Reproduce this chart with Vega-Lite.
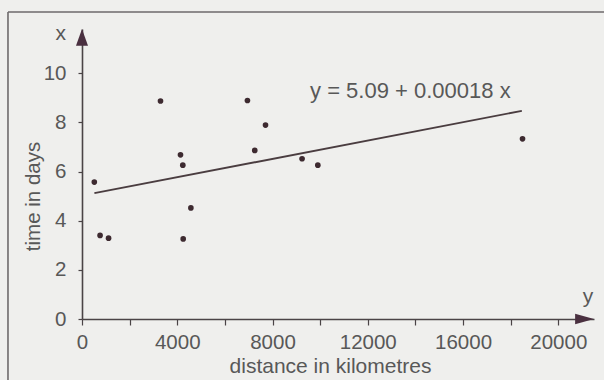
{
  "$schema": "https://vega.github.io/schema/vega-lite/v6.json",
  "width": 512,
  "height": 290,
  "autosize": {"type": "none"},
  "padding": {"left": 82, "top": 29, "right": 10, "bottom": 61},
  "background": "#efefed",
  "config": {
    "view": {"stroke": null},
    "font": "Liberation Sans",
    "axis": {"grid": false, "labelFont": "Liberation Sans", "titleFont": "Liberation Sans", "labelColor": "#585858", "titleColor": "#585858", "titleFontWeight": "normal", "domainColor": "#4a4446", "tickColor": "#4a4446", "domainWidth": 1.6, "tickWidth": 1.2}
  },
  "datasets": {
    "points": [
      {"distance": 517, "days": 5.57},
      {"distance": 759, "days": 3.40},
      {"distance": 1115, "days": 3.29},
      {"distance": 3296, "days": 8.87},
      {"distance": 4136, "days": 6.68},
      {"distance": 4233, "days": 6.26},
      {"distance": 4572, "days": 4.52},
      {"distance": 4249, "days": 3.26},
      {"distance": 6947, "days": 8.89},
      {"distance": 7706, "days": 7.89},
      {"distance": 7254, "days": 6.86},
      {"distance": 9241, "days": 6.52},
      {"distance": 9903, "days": 6.26},
      {"distance": 18498, "days": 7.33}
    ],
    "fit": [
      {"distance": 520, "days": 5.12},
      {"distance": 18470, "days": 8.47}
    ],
    "equation": [
      {"distance": 9576, "days": 9.27, "text": "y = 5.09 + 0.00018 x"}
    ],
    "axisLetters": [
      {"distance": -895, "days": 11.6, "text": "x"},
      {"distance": 21250, "days": 0.88, "text": "y"}
    ],
    "frameV": [
      {"distance": -3108, "days": 12.49, "days2": -4}
    ],
    "frameH": [
      {"distance": -3108, "distance2": 23000, "days": 12.49}
    ],
    "arrowY": [{"distance": 0, "days": 11.8}],
    "arrowX": [{"distance": 21500, "days": 0}]
  },
  "layer": [
    {
      "data": {"name": "frameV"},
      "mark": {"type": "rule", "color": "#6e6a6b", "strokeWidth": 1.6},
      "encoding": {
        "x": {"field": "distance", "type": "quantitative", "scale": {"domain": [0, 21500], "nice": false, "zero": false}},
        "y": {"field": "days", "type": "quantitative", "scale": {"domain": [0, 11.8], "nice": false, "zero": false}},
        "y2": {"field": "days2"}
      }
    },
    {
      "data": {"name": "frameH"},
      "mark": {"type": "rule", "color": "#6e6a6b", "strokeWidth": 1.6},
      "encoding": {
        "x": {"field": "distance", "type": "quantitative"},
        "x2": {"field": "distance2"},
        "y": {"field": "days", "type": "quantitative"}
      }
    },
    {
      "data": {"name": "points"},
      "mark": {"type": "point", "filled": true, "color": "#3d2a30", "size": 32, "opacity": 1},
      "encoding": {
        "x": {
          "field": "distance", "type": "quantitative",
          "scale": {"domain": [0, 21500], "nice": false, "zero": false},
          "axis": {
            "title": "distance in kilometres",
            "values": [0, 2000, 4000, 6000, 8000, 10000, 12000, 14000, 16000, 18000, 20000],
            "labelExpr": "datum.value % 4000 == 0 ? datum.value : ''",
            "labelFontSize": 20.5, "titleFontSize": 21,
            "tickSize": 6, "labelPadding": 17, "labelBaseline": "middle",
            "labelFlush": false, "labelOverlap": false,
            "titleX": 248, "titleY": 47, "titleBaseline": "middle", "titleAnchor": null
          }
        },
        "y": {
          "field": "days", "type": "quantitative",
          "scale": {"domain": [0, 11.8], "nice": false, "zero": false},
          "axis": {
            "title": "time in days",
            "values": [0, 1, 2, 3, 4, 5, 6, 7, 8, 9, 10, 11],
            "labelExpr": "datum.value % 2 == 0 ? datum.value : ''",
            "labelFontSize": 20.5, "titleFontSize": 20.5,
            "tickSize": 4, "labelPadding": 12, "labelBaseline": "middle",
            "labelFlush": false, "labelOverlap": false,
            "titleX": -49, "titleY": 167, "titleAngle": -90, "titleAlign": "center", "titleBaseline": "middle", "titleAnchor": null
          }
        }
      }
    },
    {
      "data": {"name": "fit"},
      "mark": {"type": "line", "color": "#4a3d40", "strokeWidth": 1.9},
      "encoding": {
        "x": {"field": "distance", "type": "quantitative"},
        "y": {"field": "days", "type": "quantitative"}
      }
    },
    {
      "data": {"name": "equation"},
      "mark": {"type": "text", "fontSize": 22, "color": "#585858", "baseline": "middle", "align": "left", "font": "Liberation Sans"},
      "encoding": {
        "x": {"field": "distance", "type": "quantitative"},
        "y": {"field": "days", "type": "quantitative"},
        "text": {"field": "text"}
      }
    },
    {
      "data": {"name": "axisLetters"},
      "mark": {"type": "text", "fontSize": 21, "color": "#585858", "baseline": "middle", "align": "center", "font": "Liberation Sans"},
      "encoding": {
        "x": {"field": "distance", "type": "quantitative"},
        "y": {"field": "days", "type": "quantitative"},
        "text": {"field": "text"}
      }
    },
    {
      "data": {"name": "arrowY"},
      "mark": {"type": "point", "filled": true, "color": "#4a3040", "opacity": 1, "size": 784, "shape": "M0,0L-0.43,1.2L0.43,1.2Z"},
      "encoding": {
        "x": {"field": "distance", "type": "quantitative"},
        "y": {"field": "days", "type": "quantitative"}
      }
    },
    {
      "data": {"name": "arrowX"},
      "mark": {"type": "point", "filled": true, "color": "#4a3040", "opacity": 1, "size": 784, "shape": "M0,0L-1.35,-0.37L-1.35,0.37Z"},
      "encoding": {
        "x": {"field": "distance", "type": "quantitative"},
        "y": {"field": "days", "type": "quantitative"}
      }
    }
  ]
}
